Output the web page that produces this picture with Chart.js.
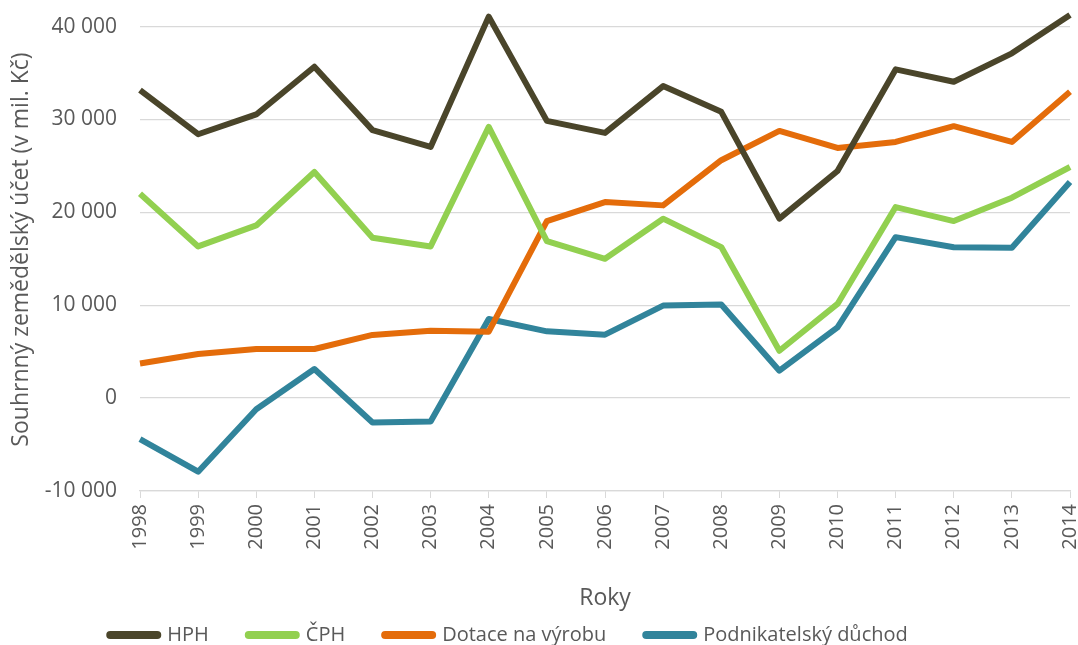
<!DOCTYPE html>
<html>
<head>
<meta charset="utf-8">
<script src="https://cdn.jsdelivr.net/npm/chart.js@4"></script>
<style>
  html, body { margin: 0; padding: 0; background: #fff; }
  #wrap { width: 1078px; height: 645px; position: relative; }
</style>
</head>
<body>
<div id="wrap"><canvas id="myChart"></canvas></div>
<script>
const years = ["1998", "1999", "2000", "2001", "2002", "2003", "2004", "2005", "2006",
  "2007", "2008", "2009", "2010", "2011", "2012", "2013", "2014"];

const hph = [33160, 28410, 30540, 35680, 28850, 27040, 41070, 29850, 28550,
  33590, 30820, 19320, 24450, 35390, 34060, 37120, 41250];
const cph = [22010, 16330, 18590, 24350, 17270, 16330, 29200, 16900, 15000,
  19320, 16260, 5100, 10140, 20570, 19060, 21580, 24880];
const dotace = [3730, 4750, 5290, 5290, 6800, 7260, 7150, 19060, 21110,
  20750, 25610, 28770, 26930, 27580, 29280, 27580, 32980];
const duchod = [-4420, -7920, -1190, 3130, -2630, -2520, 8520, 7190, 6830,
  9960, 10070, 2950, 7620, 17330, 16250, 16190, 23270];

const yTicks = [-10000, 0, 10000, 20000, 30000, 40000];

const seriesNames = ["HPH", "ČPH", "Dotace na výrobu", "Podnikatelský důchod"];
const seriesColors = ["#4a452a", "#92d050", "#e46c0a", "#31849b"];

const yTitle = "Souhrnný zemědělský účet (v mil. Kč)";
const xTitle = "Roky";

const textColor = "#595959";
const gridColor = "#d9d9d9";

Chart.defaults.font.family = "'Open Sans', sans-serif";
Chart.defaults.color = textColor;

function fmt(v) {
  return String(v).replace(/\B(?=(\d{3})+(?!\d))/g, " ");
}

// legend sits a bit left of centre in the original
const legendShift = {
  id: "legendShift",
  afterLayout(chart) {
    const lg = chart.legend;
    if (!lg) return;
    lg.left -= 26;
    lg.right -= 26;
  },
};

const seriesData = [hph, cph, dotace, duchod];

const data = {
  labels: years,
  datasets: seriesData.map((vals, i) => ({
    label: seriesNames[i],
    data: vals,
    borderColor: seriesColors[i],
    backgroundColor: seriesColors[i],
    borderWidth: 6,
    pointRadius: 0,
    tension: 0,
    fill: false,
    clip: false,
    borderJoinStyle: "round",
  })),
};

const config = {
  type: "line",
  data: data,
  plugins: [legendShift],
  options: {
    responsive: true,
    maintainAspectRatio: false,
    animation: false,
    layout: {
      padding: { left: 0, right: 8, top: 8, bottom: -10 },
    },
    plugins: {
      tooltip: { enabled: false },
      legend: {
        position: "bottom",
        labels: {
          usePointStyle: true,
          pointStyle: "line",
          pointStyleWidth: 47,
          padding: 40,
          color: textColor,
          font: { size: 20 },
          generateLabels: (chart) => {
            const items = Chart.defaults.plugins.legend.labels.generateLabels(chart);
            items.forEach((it) => {
              it.lineWidth = 8;
              it.lineCap = "round";
            });
            return items;
          },
        },
      },
    },
    scales: {
      x: {
        offset: false,
        afterFit: (scale) => {
          scale.height = 94;
          scale.paddingLeft = 0;
          scale.paddingRight = 0;
        },
        grid: {
          drawOnChartArea: false,
          drawTicks: true,
          tickLength: 7,
          color: gridColor,
        },
        border: { color: gridColor, width: 1.3 },
        ticks: {
          minRotation: 90,
          maxRotation: 90,
          autoSkip: false,
          padding: 6,
          color: textColor,
          font: { size: 20 },
        },
        title: {
          display: true,
          text: xTitle,
          color: textColor,
          font: { size: 23 },
          padding: { top: 0, bottom: -27 },
        },
      },
      y: {
        min: -10000,
        max: 42000,
        afterBuildTicks: (axis) => {
          axis.ticks = yTicks.map((v) => ({ value: v }));
        },
        afterFit: (scale) => {
          scale.width = 140;
          scale.paddingTop = 0;
          scale.paddingBottom = 0;
        },
        grid: {
          color: gridColor,
          lineWidth: 1.3,
          drawTicks: false,
        },
        border: { display: false },
        ticks: {
          padding: 23,
          color: textColor,
          font: { size: 21 },
          callback: (v) => fmt(v),
        },
        title: {
          display: true,
          text: yTitle,
          color: textColor,
          font: { size: 23 },
          padding: { top: 8, bottom: 0 },
        },
      },
    },
  },
};

const myChart = new Chart(document.getElementById("myChart"), config);
</script>
</body>
</html>
